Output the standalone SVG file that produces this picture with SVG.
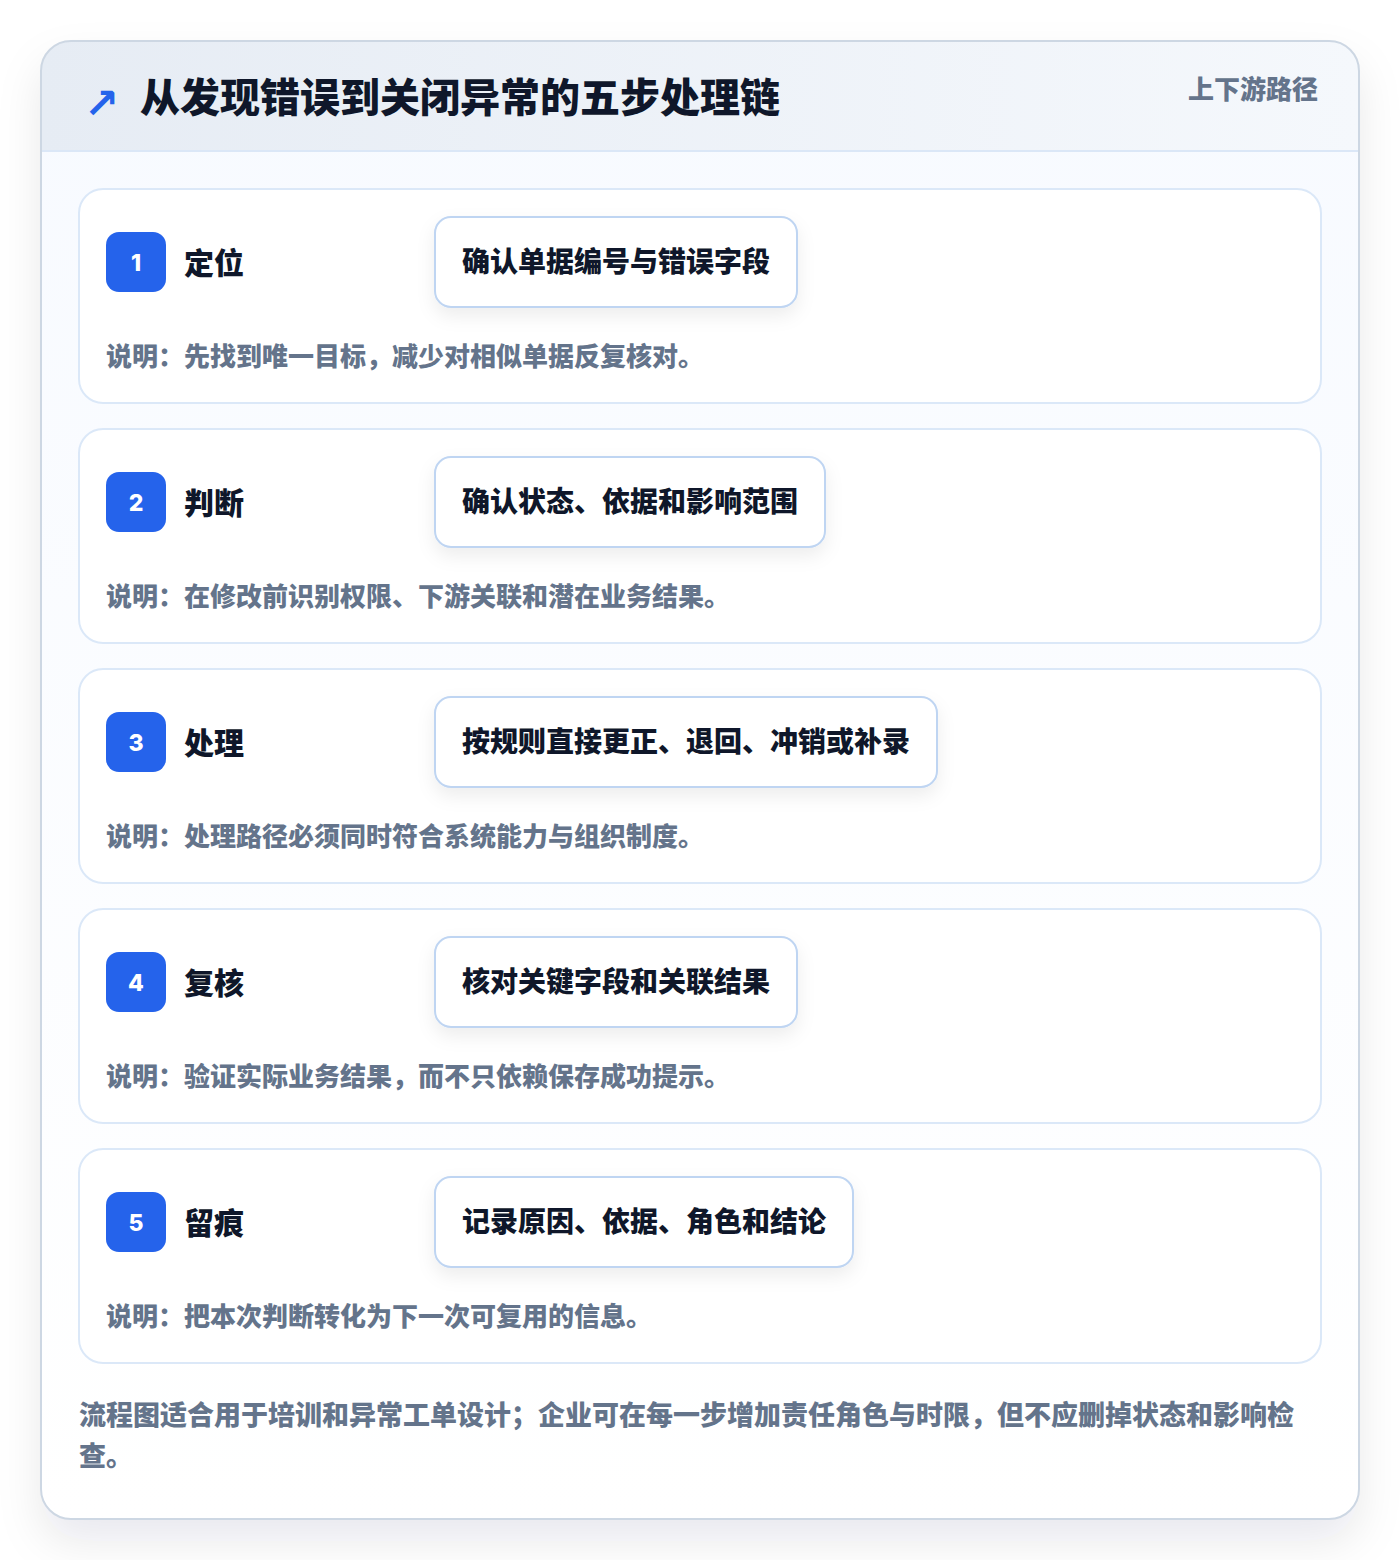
<svg xmlns="http://www.w3.org/2000/svg" width="1400" height="1560" viewBox="0 0 1400 1560">
<defs>
  <linearGradient id="hdr" x1="0" y1="0" x2="1" y2="0">
    <stop offset="0" stop-color="#e6ecf4"/>
    <stop offset="1" stop-color="#f5f8fc"/>
  </linearGradient>
  <linearGradient id="body" x1="0" y1="0" x2="0" y2="1">
    <stop offset="0" stop-color="#f7faff"/>
    <stop offset="1" stop-color="#ffffff"/>
  </linearGradient>
  <clipPath id="cardClip"><rect x="41" y="41" width="1318" height="1478" rx="30"/></clipPath>
  <filter id="outerShadow" x="-10%" y="-10%" width="120%" height="125%">
    <feDropShadow dx="0" dy="22" stdDeviation="22" flood-color="#0f172a" flood-opacity="0.09"/>
  </filter>
  <filter id="pillShadow" x="-20%" y="-30%" width="140%" height="180%">
    <feDropShadow dx="0" dy="8" stdDeviation="9" flood-color="#0f172a" flood-opacity="0.07"/>
  </filter>
</defs>
<style>
  .t { font-family: "Noto Sans CJK SC", "Noto Sans", sans-serif; font-weight: 800; }
  .title { font-size: 40px; fill: #0f172a; font-weight: 900; }
  .tag { font-size: 26px; fill: #64748b; }
  .card { fill: #ffffff; stroke: #dbe8f8; stroke-width: 2; }
  .badge { fill: #2563eb; }
  .num { font-family: "Inter", "Liberation Sans", sans-serif; font-weight: 800; font-size: 23px; fill: #ffffff; }
  .stitle { font-size: 30px; fill: #0f172a; font-weight: 900; }
  .pill { fill: #ffffff; stroke: #bfd5f2; stroke-width: 2; }
  .ptext { font-size: 28px; fill: #0f172a; font-weight: 900; }
  .desc { font-size: 26px; fill: #64748b; }
  .foot { font-size: 27px; fill: #64748b; }
</style>
<rect x="0" y="0" width="1400" height="1560" fill="#ffffff"/>
<g id="frame">
  <rect x="41" y="41" width="1318" height="1478" rx="30" fill="url(#body)" filter="url(#outerShadow)"/>
  <g clip-path="url(#cardClip)">
    <rect x="41" y="41" width="1318" height="110" fill="url(#hdr)"/>
    <line x1="41" y1="151" x2="1359" y2="151" stroke="#dbe7f7" stroke-width="2"/>
  </g>
  <rect x="41" y="41" width="1318" height="1478" rx="30" fill="none" stroke="#cdd7e3" stroke-width="2"/>
</g>
<g id="header">
  <text x="84" y="118" font-family="DejaVu Sans, sans-serif" font-weight="700" font-size="42" fill="#2563eb">↗</text>
  <text class="t title" x="140" y="112">从发现错误到关闭异常的五步处理链</text>
  <text class="t tag" x="1318" y="99" text-anchor="end">上下游路径</text>
</g>
<g id="connectors"></g>
<g id="step1">
  <rect class="card" x="79" y="189" width="1242" height="214" rx="24"/>
  <rect class="badge" x="106" y="232" width="60" height="60" rx="13"/>
  <text class="num" x="136" y="271" text-anchor="middle">1</text>
  <text class="t stitle" x="184" y="274">定位</text>
  <rect class="pill" x="435" y="217" width="362" height="90" rx="16" filter="url(#pillShadow)"/>
  <text class="t ptext" x="462" y="272">确认单据编号与错误字段</text>
  <text class="t desc" x="106" y="366">说明：先找到唯一目标，减少对相似单据反复核对。</text>
</g>
<g id="step2">
  <rect class="card" x="79" y="429" width="1242" height="214" rx="24"/>
  <rect class="badge" x="106" y="472" width="60" height="60" rx="13"/>
  <text class="num" x="136" y="511" text-anchor="middle">2</text>
  <text class="t stitle" x="184" y="514">判断</text>
  <rect class="pill" x="435" y="457" width="390" height="90" rx="16" filter="url(#pillShadow)"/>
  <text class="t ptext" x="462" y="512">确认状态、依据和影响范围</text>
  <text class="t desc" x="106" y="606">说明：在修改前识别权限、下游关联和潜在业务结果。</text>
</g>
<g id="step3">
  <rect class="card" x="79" y="669" width="1242" height="214" rx="24"/>
  <rect class="badge" x="106" y="712" width="60" height="60" rx="13"/>
  <text class="num" x="136" y="751" text-anchor="middle">3</text>
  <text class="t stitle" x="184" y="754">处理</text>
  <rect class="pill" x="435" y="697" width="502" height="90" rx="16" filter="url(#pillShadow)"/>
  <text class="t ptext" x="462" y="752">按规则直接更正、退回、冲销或补录</text>
  <text class="t desc" x="106" y="846">说明：处理路径必须同时符合系统能力与组织制度。</text>
</g>
<g id="step4">
  <rect class="card" x="79" y="909" width="1242" height="214" rx="24"/>
  <rect class="badge" x="106" y="952" width="60" height="60" rx="13"/>
  <text class="num" x="136" y="991" text-anchor="middle">4</text>
  <text class="t stitle" x="184" y="994">复核</text>
  <rect class="pill" x="435" y="937" width="362" height="90" rx="16" filter="url(#pillShadow)"/>
  <text class="t ptext" x="462" y="992">核对关键字段和关联结果</text>
  <text class="t desc" x="106" y="1086">说明：验证实际业务结果，而不只依赖保存成功提示。</text>
</g>
<g id="step5">
  <rect class="card" x="79" y="1149" width="1242" height="214" rx="24"/>
  <rect class="badge" x="106" y="1192" width="60" height="60" rx="13"/>
  <text class="num" x="136" y="1231" text-anchor="middle">5</text>
  <text class="t stitle" x="184" y="1234">留痕</text>
  <rect class="pill" x="435" y="1177" width="418" height="90" rx="16" filter="url(#pillShadow)"/>
  <text class="t ptext" x="462" y="1232">记录原因、依据、角色和结论</text>
  <text class="t desc" x="106" y="1326">说明：把本次判断转化为下一次可复用的信息。</text>
</g>
<g id="footer">
  <text class="t foot" x="79" y="1425">流程图适合用于培训和异常工单设计；企业可在每一步增加责任角色与时限，但不应删掉状态和影响检</text>
  <text class="t foot" x="79" y="1466">查。</text>
</g>
</svg>
